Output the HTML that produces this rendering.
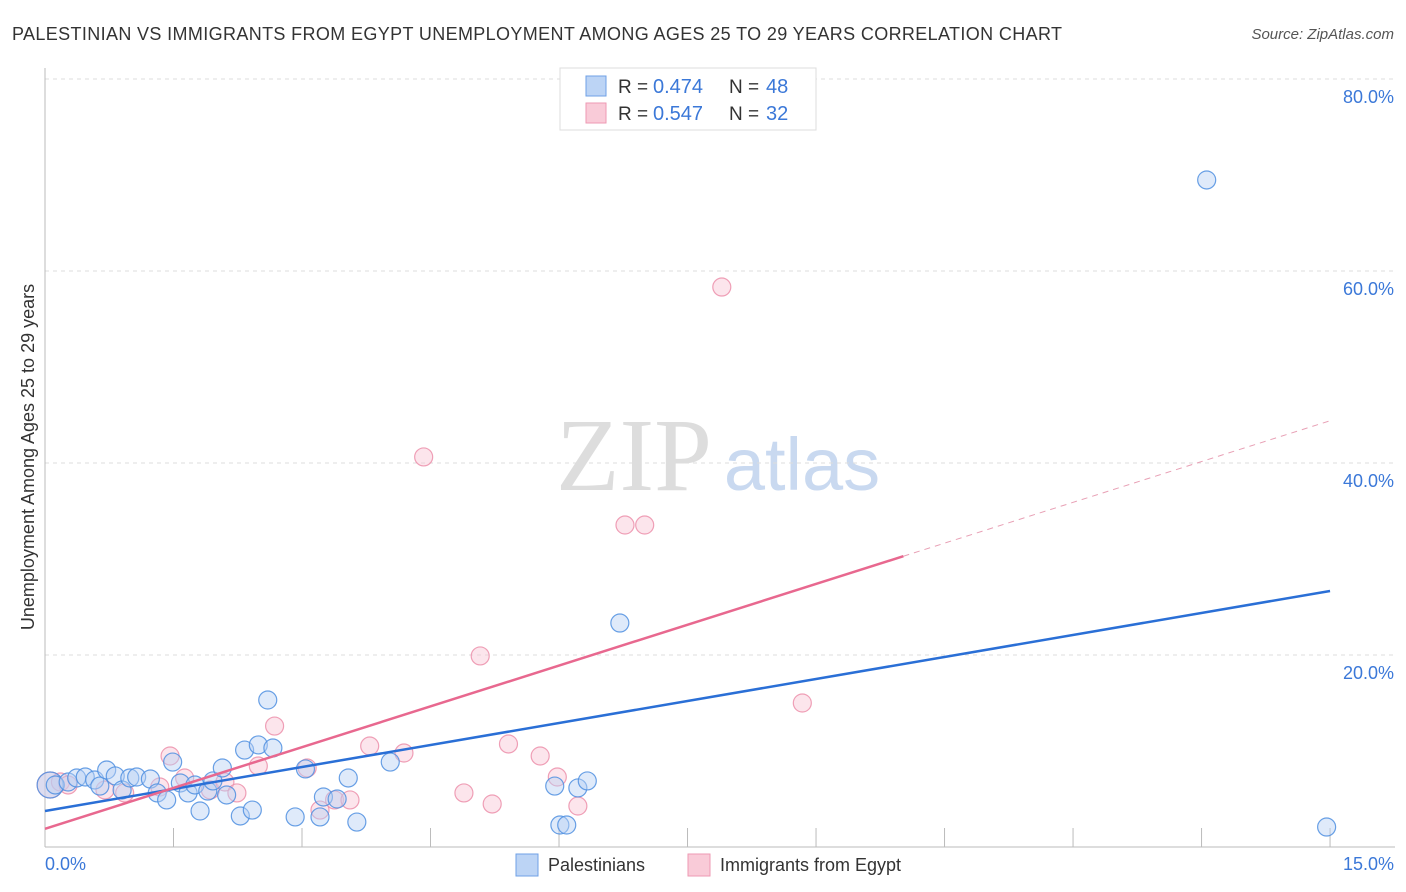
<!DOCTYPE html>
<html><head><meta charset="utf-8"><style>
body{margin:0;background:#fff;font-family:"Liberation Sans",sans-serif}
svg{display:block}
</style></head><body>
<svg id="chart" width="1406" height="892">
<text x="12" y="40" font-size="18" fill="#333" textLength="1050">PALESTINIAN VS IMMIGRANTS FROM EGYPT UNEMPLOYMENT AMONG AGES 25 TO 29 YEARS CORRELATION CHART</text>
<text x="1394" y="39" font-size="15" fill="#555" font-style="italic" text-anchor="end">Source: ZipAtlas.com</text>
<text x="634" y="490" font-size="104" fill="#ddd" font-family="Liberation Serif,serif" text-anchor="middle">ZIP</text>
<text x="802" y="490" font-size="74" fill="#c9d9f0" text-anchor="middle">atlas</text>
<g id="grid"></g><g id="pts"></g><g id="lines"></g>
<text transform="translate(34,457) rotate(-90)" font-size="18" fill="#333" text-anchor="middle">Unemployment Among Ages 25 to 29 years</text>
<text x="45" y="870" font-size="18" fill="#3b78d8">0.0%</text>
<text x="1394" y="870" font-size="18" fill="#3b78d8" text-anchor="end">15.0%</text>
<g>
<rect x="560" y="68" width="256" height="62" fill="#fff" stroke="#ddd"/>
<rect x="586" y="76" width="20" height="20" fill="#bcd4f5" stroke="#6fa0e6"/>
<rect x="586" y="103" width="20" height="20" fill="#f9cbd8" stroke="#ee9ab3"/>
<text x="618" y="93" font-size="19" fill="#333">R =</text>
<text x="653" y="93" font-size="20" fill="#3b78d8">0.474</text>
<text x="729" y="93" font-size="19" fill="#333">N =</text>
<text x="766" y="93" font-size="20" fill="#3b78d8">48</text>
<text x="618" y="120" font-size="19" fill="#333">R =</text>
<text x="653" y="120" font-size="20" fill="#3b78d8">0.547</text>
<text x="729" y="120" font-size="19" fill="#333">N =</text>
<text x="766" y="120" font-size="20" fill="#3b78d8">32</text>
</g>
<g>
<rect x="516" y="854" width="22" height="22" fill="#bcd4f5" stroke="#6fa0e6"/>
<text x="548" y="871" font-size="18" fill="#333">Palestinians</text>
<rect x="688" y="854" width="22" height="22" fill="#f9cbd8" stroke="#ee9ab3"/>
<text x="720" y="871" font-size="18" fill="#333">Immigrants from Egypt</text>
</g>
</svg>
<script>
const yTicks=[20,40,60,80];
const yTickLabels=["20.0%","40.0%","60.0%","80.0%"];
const blueX=[0.06,0.12,0.27,0.37,0.47,0.58,0.64,0.72,0.82,0.90,0.99,1.07,1.23,1.31,1.42,1.49,1.58,1.67,1.75,1.81,1.90,1.96,2.07,2.12,2.28,2.33,2.42,2.49,2.60,2.66,2.92,3.04,3.21,3.25,3.41,3.54,3.64,4.03,5.95,6.01,6.09,6.22,6.33,6.71,13.56,14.96];
const blueY=[6.46,6.46,6.77,7.19,7.29,6.98,6.35,8.02,7.40,5.94,7.19,7.29,7.08,5.63,4.90,8.85,6.67,5.63,6.46,3.75,5.83,6.88,8.23,5.42,3.23,10.10,3.85,10.63,15.31,10.31,3.13,8.13,3.13,5.21,5.00,7.19,2.60,8.85,6.35,2.29,2.29,6.15,6.88,23.33,69.48,2.08];
const pinkX=[0.06,0.18,0.27,0.70,0.93,1.34,1.46,1.63,1.93,2.10,2.24,2.49,2.68,3.06,3.21,3.38,3.56,3.79,4.19,4.42,4.89,5.08,5.22,5.41,5.78,5.98,6.22,6.77,7.00,7.90,8.84];
const pinkY=[6.46,6.77,6.46,5.94,5.63,6.25,9.48,7.19,5.94,6.77,5.63,8.44,12.60,8.23,3.85,4.90,4.90,10.52,9.79,40.63,5.63,19.90,4.48,10.73,9.48,7.29,4.27,33.54,33.54,58.33,15.00];
const blueLine=[3.75,26.67];
const pinkLine=[1.9,44.4];
const pinkSolidEnd=10.02;
const NS="http://www.w3.org/2000/svg";
const xs=v=>45+v*85.67, ys=v=>847-v*9.6;
function mk(t,a,p){const e=document.createElementNS(NS,t);for(const k in a)e.setAttribute(k,a[k]);p.appendChild(e);return e;}
const g=document.getElementById('grid');
yTicks.forEach((t,i)=>{
 const l=mk('line',{x1:45,x2:1395,y1:ys(t),y2:ys(t),stroke:'#ddd','stroke-dasharray':'4,4'},g);
 
 
 const tx=mk('text',{x:1394,y:ys(t)+24,'font-size':18,fill:'#3b78d8','text-anchor':'end'},g);
 tx.textContent=yTickLabels[i];
 
 
});
mk('line',{x1:45,x2:45,y1:68,y2:847,stroke:'#bbb'},g);
mk('line',{x1:45,x2:1395,y1:847,y2:847,stroke:'#bbb'},g);
for(let i=1.5;i<=15;i+=1.5){const t=mk('line',{x1:xs(i),x2:xs(i),y1:828,y2:847,stroke:'#bbb'},g);}
const p=document.getElementById('pts');
function dots(X,Y,fill,stroke,name){X.forEach((x,i)=>{const c=mk('circle',{cx:xs(x),cy:ys(Y[i]),r:i==0?13:9,fill:fill,'fill-opacity':0.45,stroke:stroke,'stroke-width':1.2,'stroke-opacity':0.85},p);});}
dots(pinkX,pinkY,'#f9c6d5','#ec8faa','egypt-point');
dots(blueX,blueY,'#b8d1f3','#4f8fe0','palestinian-point');
const L=document.getElementById('lines');
let b=mk('line',{x1:xs(0),y1:ys(blueLine[0]),x2:xs(15),y2:ys(blueLine[1]),stroke:'#2a6fd6','stroke-width':2.5},L);

const pv=x=>pinkLine[0]+(pinkLine[1]-pinkLine[0])*x/15;
let s=mk('line',{x1:xs(0),y1:ys(pv(0)),x2:xs(pinkSolidEnd),y2:ys(pv(pinkSolidEnd)),stroke:'#e8688f','stroke-width':2.5},L);

let d=mk('line',{x1:xs(pinkSolidEnd),y1:ys(pv(pinkSolidEnd)),x2:xs(15),y2:ys(pv(15)),stroke:'#e8a0b5','stroke-width':1,'stroke-dasharray':'6,5'},L);

</script>
</body></html>
